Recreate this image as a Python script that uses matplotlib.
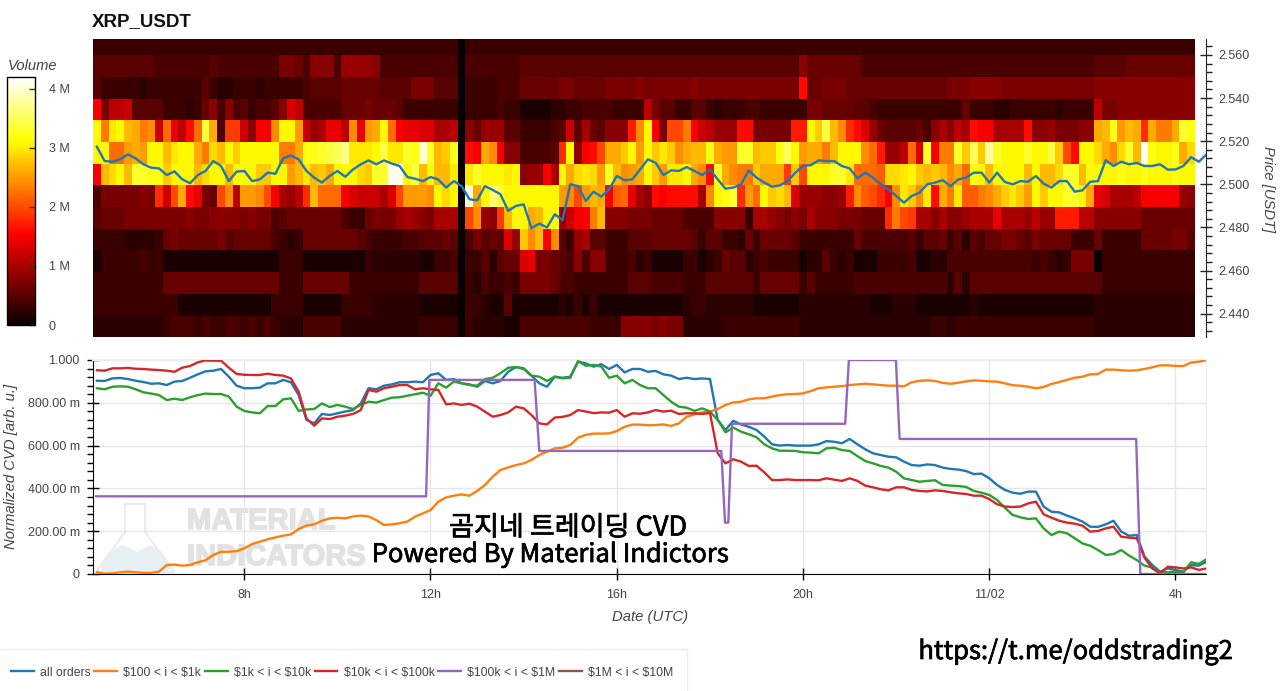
import numpy as np
import matplotlib
matplotlib.use('Agg')
import matplotlib.pyplot as plt
import matplotlib.patheffects as pe
from matplotlib.lines import Line2D
from matplotlib.patches import Polygon
from matplotlib.ticker import MultipleLocator

plt.rcParams['font.family'] = ['Liberation Sans', 'DejaVu Sans']

# heatmap volume per price row, in units of 100k, one value per 10 minute column
vol_2560 = [3,3,3,3,3,3,3,3,3,3,3,3,3,3,3,3,3,3,3,3,3,3,3,3,3,3,3,3,3,3,3,3,3,3,3,3,
            3,3,3,3,3,3,3,3,3,3,3,0,3,3,3,3,3,3,3,3,3,3,3,3,3,3,3,3,3,3,3,3,3,3,3,3,
            3,3,3,3,3,3,3,3,3,3,3,3,3,3,3,3,3,3,3,3,3,3,3,3,3,3,3,3,3,3,3,3,3,3,3,3,
            3,3,3,3,3,3,3,3,3,3,3,3,3,3,3,3,3,3,3,3,3,3,3,3,3,3,3,3,3,3,3,3,3,3]
vol_2550 = [5,5,5,5,5,5,5,5,4,4,4,4,4,4,4,5,4,4,4,4,4,4,4,4,7,7,6,4,8,8,8,4,9,9,9,9,
            8,4,4,4,4,4,4,4,4,4,4,0,4,4,4,4,4,4,4,5,5,5,5,5,5,5,5,5,5,5,5,5,5,5,5,5,
            5,5,5,5,5,5,5,5,5,5,5,5,5,5,5,5,5,5,5,8,6,6,6,6,6,6,6,4,4,4,4,4,4,4,4,4,
            4,4,4,4,4,4,4,4,4,4,4,4,4,4,4,4,4,4,4,4,4,5,5,5,5,6,6,6,6,6,6,6,6,6]
vol_2540 = [5,3,3,3,3,3,2,3,3,3,3,3,3,3,5,3,2,2,3,3,3,2,3,3,3,3,3,4,5,5,5,5,6,6,6,6,
            6,5,5,5,5,7,7,7,5,5,5,0,3,3,3,3,4,4,4,6,6,6,6,6,7,7,6,6,6,6,7,7,7,7,8,7,
            7,7,7,7,7,8,7,7,7,7,7,7,7,7,7,7,7,7,7,16,6,6,7,7,7,6,6,6,6,6,6,6,6,6,6,6,
            6,6,7,7,7,8,8,8,8,7,7,7,7,7,7,7,7,7,7,7,7,8,8,8,8,8,8,8,8,8,8,8,8,8]
vol_2530 = [15,7,11,11,12,5,5,5,5,3,3,3,2,3,6,8,4,8,4,5,3,4,4,5,8,13,11,4,4,4,4,4,6,6,6,7,
            6,6,6,5,3,3,3,3,3,3,3,0,3,3,3,3,4,3,3,1,1,1,1,2,2,3,3,4,4,4,4,3,3,3,3,11,
            7,5,5,3,3,5,5,3,2,3,3,3,4,4,3,3,3,3,3,3,7,7,6,6,6,6,5,5,4,3,3,3,3,3,3,3,
            3,3,3,3,6,3,3,3,2,2,3,3,3,3,3,3,2,3,3,3,3,11,7,7,8,8,8,8,8,8,8,8,8,8]
vol_2520 = [31,23,30,31,27,26,23,24,12,22,14,11,16,22,34,26,4,19,19,12,8,15,15,24,31,31,25,12,9,10,14,14,11,24,14,25,
            26,31,22,15,14,14,13,13,10,10,11,0,8,6,9,9,9,5,5,3,3,3,3,4,5,12,5,10,6,5,8,8,8,17,24,31,
            15,7,20,20,23,15,12,11,9,9,9,16,16,7,7,7,7,7,17,17,31,28,34,27,24,18,16,13,9,6,5,5,5,5,6,4,
            8,10,8,11,10,16,15,15,10,10,10,10,16,8,8,9,7,7,7,8,8,26,27,32,25,27,26,18,26,23,23,26,33,32]
vol_2510 = [31,31,22,22,25,26,25,31,31,27,30,31,31,26,23,29,27,31,28,31,31,31,31,31,23,23,26,32,32,33,34,35,37,30,30,30,
            31,34,30,30,33,32,40,33,27,28,32,0,16,15,26,24,15,8,8,4,4,4,4,5,18,31,8,15,16,20,26,26,28,31,25,31,
            28,30,28,24,26,27,27,32,26,25,25,33,33,27,28,28,32,35,31,25,26,26,23,27,31,31,31,24,22,17,9,9,11,22,13,33,
            15,23,23,33,28,35,28,38,33,31,31,31,33,31,31,34,28,20,16,31,31,29,26,24,29,33,27,42,32,31,31,32,26,29]
vol_2500 = [15,27,29,31,27,33,33,32,32,28,31,31,31,27,29,31,31,27,31,31,31,28,28,31,31,25,27,30,27,28,26,31,31,31,29,28,
            33,33,41,41,31,34,27,31,27,27,30,0,30,33,31,31,31,30,31,8,9,9,15,10,31,26,29,30,29,25,33,27,24,25,26,31,
            28,25,30,30,31,26,24,16,33,26,24,23,23,28,26,26,26,19,28,20,31,31,31,33,33,30,22,22,22,21,29,29,30,31,28,27,
            28,27,24,26,22,32,31,27,31,31,31,31,27,31,27,27,29,33,33,27,31,31,31,31,32,31,31,32,31,31,31,32,31,31]
vol_2490 = [4,7,7,7,7,7,8,7,18,12,20,26,16,14,7,6,20,24,11,25,25,24,20,15,10,9,11,18,27,22,22,22,15,13,12,12,
            12,10,13,20,25,25,25,24,31,29,31,0,40,26,31,36,34,31,31,31,31,31,31,31,25,24,20,25,27,26,15,21,22,14,10,8,
            16,15,16,16,16,16,10,24,31,32,33,18,25,22,31,28,29,27,13,9,9,9,8,8,9,17,24,21,20,18,15,24,30,28,24,30,
            16,26,23,30,21,21,23,24,26,28,30,28,25,31,28,31,31,33,33,31,26,14,13,10,10,10,11,15,15,15,15,15,9,8]
vol_2480 = [5,6,6,6,7,7,7,7,7,7,7,7,8,7,7,8,8,8,8,7,8,7,7,4,5,6,6,6,6,6,6,6,4,3,3,6,
            7,7,7,9,10,9,8,7,10,10,10,0,20,24,9,8,19,27,31,31,26,27,31,31,9,12,15,15,23,27,8,8,8,7,7,7,
            6,6,6,6,4,4,4,4,8,8,8,8,3,10,10,9,8,7,8,7,10,8,8,8,7,7,7,6,6,6,18,23,20,19,10,10,
            8,10,8,8,9,10,10,10,14,10,10,10,9,11,9,9,17,17,17,11,11,8,8,8,8,8,8,6,6,6,6,6,6,6]
vol_2470 = [3,3,3,3,2,2,2,2,3,6,7,6,6,6,6,6,7,5,6,6,6,6,6,4,3,2,3,6,6,6,6,6,6,6,5,4,
            3,3,3,3,4,4,5,5,5,6,5,0,4,7,5,6,5,13,9,28,24,27,15,24,5,3,9,10,5,5,3,3,3,5,5,5,
            6,6,6,6,6,5,3,5,5,3,3,2,6,3,6,6,6,6,5,3,3,3,3,3,3,3,6,4,4,4,4,4,4,5,3,5,
            5,6,3,5,2,5,4,6,6,7,7,6,5,7,6,6,6,6,3,3,3,6,3,3,3,3,3,6,6,6,6,7,7,5]
vol_2460 = [1,3,3,3,3,3,4,3,3,1,1,1,1,1,1,1,1,1,1,1,1,1,1,1,3,3,3,1,1,1,1,1,1,1,1,3,
            2,2,2,2,2,2,1,1,3,3,4,0,3,3,5,2,5,6,6,13,14,7,7,6,5,4,8,4,8,8,3,3,3,4,2,3,
            1,1,1,1,3,3,1,2,3,6,5,5,2,3,4,3,3,3,3,1,2,2,5,3,2,3,1,1,1,3,3,3,3,4,1,1,
            2,2,4,4,4,4,4,4,4,4,4,4,4,3,4,3,2,3,7,7,7,0,3,3,3,3,3,3,3,3,3,3,3,3]
vol_2450 = [3,3,3,3,3,3,3,3,3,6,6,6,6,6,6,6,6,6,6,6,6,6,6,6,3,3,3,6,6,6,6,6,6,3,3,3,
            3,3,3,3,3,3,5,5,5,5,5,0,3,2,4,3,3,4,3,7,7,7,7,6,4,4,3,3,3,3,3,3,3,5,5,5,
            4,4,4,4,3,3,3,5,5,5,5,5,5,3,6,6,6,6,6,3,5,3,3,3,3,3,4,4,4,4,4,4,4,4,4,4,
            4,4,2,5,2,5,5,5,5,5,5,5,5,5,5,5,5,5,5,5,5,5,3,3,3,3,3,3,3,3,3,3,3,3]
vol_2440 = [3,3,3,3,3,3,3,3,3,3,3,1,1,1,1,1,1,1,1,1,1,1,1,3,3,3,3,1,1,1,1,1,3,3,3,3,
            2,2,2,2,2,2,1,1,1,1,1,0,3,3,2,1,1,5,1,1,1,1,1,1,2,1,3,1,3,1,1,1,1,1,1,1,
            1,1,1,1,2,3,3,2,2,2,2,2,2,1,1,1,1,1,1,2,2,2,2,2,2,2,2,2,1,1,1,2,2,2,1,1,
            1,1,1,1,1,2,1,1,1,1,1,1,1,1,1,1,1,1,1,1,1,2,2,2,2,2,2,2,2,2,2,2,2,2]
vol_2430 = [2,2,2,2,2,2,2,2,2,3,4,4,4,3,4,3,3,4,4,3,4,3,4,3,2,2,2,4,4,4,4,4,2,2,2,2,
            2,2,2,2,2,2,3,3,3,3,3,0,3,2,2,2,2,1,1,4,4,4,4,4,4,4,4,4,3,3,3,3,8,8,8,8,
            7,8,7,7,2,2,2,2,2,3,3,3,3,3,3,3,3,3,3,2,2,2,2,2,2,2,2,2,2,2,2,2,2,2,2,2,
            3,3,2,3,3,3,3,3,3,3,3,3,3,3,3,3,3,3,3,3,3,2,2,2,2,2,2,2,2,2,2,2,2,2]

price_edges = [2.4292, 2.4391, 2.4491, 2.4593, 2.4694, 2.4794, 2.4895, 2.4995,
               2.5096, 2.5196, 2.5298, 2.5397, 2.5499, 2.5600, 2.5674]

# mid price, one value per 10 minutes
price = [2.5174,2.5108,2.5105,2.5116,2.5139,2.5120,2.5093,2.5077,2.5074,2.5043,2.5060,2.5023,
         2.5005,2.5043,2.5062,2.5108,2.5085,2.5015,2.5059,2.5062,2.5015,2.5023,2.5054,2.5049,
         2.5120,2.5134,2.5116,2.5062,2.5031,2.5008,2.5039,2.5062,2.5035,2.5069,2.5093,2.5111,
         2.5093,2.5111,2.5096,2.5085,2.5034,2.5026,2.5015,2.5034,2.5022,2.4985,2.5015,2.4992,
         2.4931,2.4926,2.4992,2.4974,2.4954,2.4877,2.4900,2.4907,2.4797,2.4818,2.4800,2.4861,
         2.4834,2.5000,2.4992,2.4923,2.4966,2.4943,2.4977,2.5039,2.5019,2.5023,2.5069,2.5116,
         2.5100,2.5043,2.5065,2.5062,2.5080,2.5062,2.5043,2.5069,2.5023,2.4980,2.4985,2.5000,
         2.5065,2.5031,2.5008,2.4989,2.4995,2.5015,2.5054,2.5085,2.5089,2.5111,2.5108,2.5108,
         2.5085,2.5074,2.5028,2.5054,2.5031,2.5000,2.4977,2.4946,2.4915,2.4946,2.4961,2.5000,
         2.5008,2.5019,2.4992,2.5023,2.5031,2.5054,2.5054,2.5008,2.5054,2.5011,2.5000,2.5015,
         2.5012,2.5039,2.5003,2.4985,2.5015,2.5015,2.4966,2.4972,2.5012,2.5015,2.5112,2.5085,
         2.5105,2.5093,2.5099,2.5085,2.5085,2.5093,2.5068,2.5069,2.5085,2.5126,2.5105,2.5139]

# normalized CVD, in thousandths, one value per 10 minutes
cvd_all = [903,902,914,916,911,903,897,889,891,883,899,902,917,933,947,950,958,922,880,868,868,871,891,891,
           907,896,836,720,704,748,743,751,759,766,797,868,
           863,880,886,896,896,899,896,930,938,907,911,891,886,875,902,891,902,945,967,961,927,891,875,922,
           917,922,992,984,969,980,958,977,942,958,958,945,
           949,933,927,911,917,911,914,911,720,673,716,699,688,673,642,606,600,603,600,600,600,606,621,618,
           611,631,606,583,564,556,548,545,525,509,506,512,
           509,497,491,488,481,467,469,447,416,393,380,375,385,385,315,291,288,273,260,245,221,220,232,249,
           198,179,182,81,42,11,26,19,11,42,39,58]
cvd_100_1k = [8,2,3,8,11,8,5,5,11,42,44,39,42,55,64,89,104,104,107,120,140,151,162,171,
              179,185,210,226,232,249,260,263,260,269,273,269,
              252,229,232,237,245,268,283,299,338,358,366,372,366,388,416,455,486,498,509,517,533,556,572,587,
              590,603,637,650,656,656,657,668,688,698,698,695,
              696,699,692,704,735,746,755,759,771,790,802,805,816,821,821,829,836,840,841,844,855,868,872,875,
              878,883,886,889,886,883,880,880,877,896,902,905,
              902,893,889,894,900,905,903,900,899,891,882,880,875,868,874,888,897,907,917,922,933,935,955,955,
              952,950,952,958,966,975,975,972,972,988,992,1000]
cvd_1k_10k = [868,863,875,877,875,863,849,843,836,813,819,813,826,836,843,841,841,829,782,762,755,751,785,785,
              816,821,762,769,771,797,780,790,782,771,790,805,
              801,813,824,826,833,840,847,833,891,871,899,891,883,880,911,917,938,964,967,958,927,922,902,922,
              914,917,995,973,977,969,917,927,891,907,883,868,
              868,836,805,782,777,762,774,759,720,662,684,665,653,639,606,587,576,576,575,569,567,564,587,590,
              579,575,551,528,517,505,497,478,447,439,431,435,
              438,416,413,411,407,388,380,369,346,310,276,265,257,260,213,182,198,190,167,143,132,112,89,93,
              112,86,65,39,30,8,8,11,8,55,47,70]
cvd_10k_100k = [952,950,961,961,963,959,958,955,953,950,945,964,972,989,998,997,997,964,935,931,930,930,936,930,
                927,914,852,727,693,727,724,735,740,748,766,860,
                852,868,875,883,883,863,868,863,860,793,797,790,796,782,759,735,743,755,782,774,743,704,699,731,
                734,743,766,759,752,755,754,766,735,751,749,755,
                766,759,763,748,751,751,748,752,564,517,536,525,505,506,475,439,439,442,439,439,439,438,447,441,
                435,447,435,413,405,396,391,405,405,393,388,386,
                391,388,382,377,374,366,366,350,326,315,313,315,330,338,279,263,249,240,235,226,198,201,213,221,
                174,170,167,76,26,3,34,31,26,31,19,26]

# the $100k-$1M series only moves in steps, so it has its own time points (hours)
step_hours = [4.82, 11.91, 11.98, 14.24, 14.34, 18.25, 18.33, 18.40, 18.48, 20.91, 20.99, 22.00, 22.08, 27.16, 27.25, 28.66]
cvd_100k_1m = [363, 363, 907, 907, 575, 575, 240, 240, 702, 702, 1000, 1000, 631, 631, 0, 0]

x_ticks = [8, 12, 16, 20, 24, 28]
x_labels = ['8h', '12h', '16h', '20h', '11/02', '4h']
price_ticks = [2.44, 2.46, 2.48, 2.50, 2.52, 2.54, 2.56]
cvd_ticks = [0, 200, 400, 600, 800, 1000]
cvd_labels = ['0', '200.00 m', '400.00 m', '600.00 m', '800.00 m', '1.000']
volume_ticks = [0, 1e6, 2e6, 3e6, 4e6]
volume_labels = ['0', '1 M', '2 M', '3 M', '4 M']

TEXT_COLOR = '#444444'
LINE_W = 1.7
W, H = 1280, 691


def ax_rect(left, top, right, bottom):
    # pixel box -> figure fractions
    return [left / W, 1 - bottom / H, (right - left) / W, (bottom - top) / H]


def fx(px):
    return px / W


def fy(py):
    return 1 - py / H


fig = plt.figure(figsize=(12.8, 6.91), dpi=100)

# heatmap panel
ax_heat = fig.add_axes(ax_rect(93, 39, 1206, 337))
t_start = 4.756
t_end = 28.66
volume = np.array([vol_2430, vol_2440, vol_2450, vol_2460, vol_2470, vol_2480, vol_2490, vol_2500,
                   vol_2510, vol_2520, vol_2530, vol_2540, vol_2550, vol_2560]) * 1e5
time_edges = t_start + np.arange(volume.shape[1] + 1) / 6
mesh = ax_heat.pcolormesh(time_edges, price_edges, volume, cmap='hot', vmin=0, vmax=4.2e6,
                          shading='flat', antialiased=False)
line_hours = 4.84 + np.arange(len(price)) / 6
ax_heat.plot(line_hours, price, color='#1f77b4', lw=LINE_W, solid_joinstyle='round')
ax_heat.set_xlim(t_start, t_end)
ax_heat.set_ylim(2.4292, 2.5674)
ax_heat.set_xticks([])
for side in ['left', 'top', 'bottom']:
    ax_heat.spines[side].set_visible(False)
ax_heat.spines['right'].set_color('#222222')
ax_heat.yaxis.tick_right()
ax_heat.set_yticks(price_ticks)
ax_heat.set_yticklabels([f'{p:.3f}' for p in price_ticks])
ax_heat.yaxis.set_minor_locator(MultipleLocator(0.004))
ax_heat.tick_params(axis='y', which='major', direction='inout', length=8, width=1, color='#222222',
                    labelsize=9, labelcolor=TEXT_COLOR, pad=5)
ax_heat.tick_params(axis='y', which='minor', direction='out', length=4, width=1, color='#222222')
fig.text(fx(1268), fy(189), 'Price [USDT]', rotation=-90, style='italic', fontsize=10.6,
         color=TEXT_COLOR, ha='center', va='center')
fig.text(fx(92), fy(22), 'XRP_USDT', fontsize=13.5, fontweight='bold', color='#111111', ha='left', va='center')

# colorbar
cax = fig.add_axes(ax_rect(7, 77, 35, 325))
cbar = fig.colorbar(mesh, cax=cax)
cbar.set_ticks(volume_ticks)
cbar.set_ticklabels(volume_labels)
cbar.ax.tick_params(direction='in', length=4, width=1, color='#333333', labelsize=9,
                    labelcolor=TEXT_COLOR, pad=10)
cbar.ax.minorticks_off()
cbar.outline.set_edgecolor('black')
cbar.outline.set_linewidth(1)
fig.text(fx(8), fy(66), 'Volume', style='italic', fontsize=10.6, color=TEXT_COLOR, ha='left', va='center')

# CVD panel
ax_cvd = fig.add_axes(ax_rect(93, 360, 1206, 574))
line_hours_cvd = 4.84 + np.arange(len(cvd_all)) / 6
ax_cvd.plot(line_hours_cvd, cvd_all, color='#1f77b4', lw=LINE_W, label='all orders', zorder=3)
ax_cvd.plot(line_hours_cvd, cvd_100_1k, color='#ff7f0e', lw=LINE_W, label='$100 < i < $1k', zorder=3)
ax_cvd.plot(line_hours_cvd, cvd_1k_10k, color='#2ca02c', lw=LINE_W, label='$1k < i < $10k', zorder=3)
ax_cvd.plot(line_hours_cvd, cvd_10k_100k, color='#d62728', lw=LINE_W, label='$10k < i < $100k', zorder=3)
ax_cvd.plot(step_hours, cvd_100k_1m, color='#9467bd', lw=LINE_W, label='$100k < i < $1M', zorder=3)
ax_cvd.plot([], [], color='#8c564b', lw=LINE_W, label='$1M < i < $10M')
ax_cvd.set_xlim(t_start, t_end)
ax_cvd.set_ylim(0, 1000)
ax_cvd.set_xticks(x_ticks)
ax_cvd.set_xticklabels(x_labels)
ax_cvd.set_yticks(cvd_ticks)
ax_cvd.set_yticklabels(cvd_labels)
ax_cvd.yaxis.set_minor_locator(MultipleLocator(40))
ax_cvd.grid(True, color='#e6e6e6', lw=1)
ax_cvd.set_axisbelow(True)
ax_cvd.spines['top'].set_color('#eeeeee')
ax_cvd.spines['top'].set_linewidth(1.5)
ax_cvd.spines['right'].set_color('#eeeeee')
ax_cvd.spines['left'].set_color('black')
ax_cvd.spines['bottom'].set_color('black')
ax_cvd.tick_params(axis='x', which='major', direction='inout', length=9, width=1, labelsize=9,
                   labelcolor=TEXT_COLOR, pad=6)
ax_cvd.tick_params(axis='y', which='major', direction='inout', length=9, width=1, labelsize=9,
                   labelcolor=TEXT_COLOR, pad=5)
ax_cvd.tick_params(axis='y', which='minor', direction='out', length=4, width=1)
fig.text(fx(650), fy(617), 'Date (UTC)', style='italic', fontsize=10.7, color=TEXT_COLOR, ha='center', va='center')
fig.text(fx(11), fy(466), 'Normalized CVD [arb. u.]', rotation=90, style='italic', fontsize=10.7,
         color=TEXT_COLOR, ha='center', va='center')

# watermark behind the CVD lines
WM_GREY = '#e2e2e2'
wm_stroke = [pe.withStroke(linewidth=1.2, foreground=WM_GREY)]
for label, py in [('MATERIAL', 521), ('INDICATORS', 557)]:
    fig.text(fx(187), fy(py), label, fontsize=21, fontweight='bold', color=WM_GREY, ha='left', va='center',
             zorder=0.5, path_effects=wm_stroke)
flask_outline = [(125, 504), (145, 504), (145, 532), (174, 572), (96, 572), (125, 532)]
flask_liquid = [(100, 566), (110, 552), (122, 545), (137, 552), (150, 545), (162, 552), (171, 566), (168, 572), (103, 572)]
for pts, face, edge in [(flask_liquid, '#e6f0f3', 'none'), (flask_outline, 'none', '#e8ecee')]:
    fig.add_artist(Polygon([(fx(a), fy(b)) for a, b in pts], closed=True, transform=fig.transFigure,
                           facecolor=face, edgecolor=edge, lw=1.5, zorder=0.5))
ax_cvd.patch.set_alpha(0)
ax_cvd.set_zorder(2)

# pasted-in captions
kr_family = ['Noto Sans CJK KR', 'DejaVu Sans']
caption_stroke = [pe.withStroke(linewidth=0.5, foreground='black')]
fig.text(fx(568), fy(528), '곰지네 트레이딩 CVD', fontsize=19.5, family=kr_family, color='black',
         ha='center', va='center', zorder=5, path_effects=caption_stroke)
fig.text(fx(551), fy(555), 'Powered By Material Indictors', fontsize=18.4, family=kr_family, color='black',
         ha='center', va='center', zorder=5, path_effects=caption_stroke)
fig.text(fx(1076), fy(652), 'https://t.me/oddstrading2', fontsize=18.4, family=kr_family, color='black',
         ha='center', va='center', zorder=5, path_effects=caption_stroke)

# legend strip along the bottom
handles, labels = ax_cvd.get_legend_handles_labels()
labels = [s.replace('$', r'\$') for s in labels]
leg = fig.legend(handles, labels, ncol=6, loc='lower left', bbox_to_anchor=(0, 0.002), borderaxespad=0,
                 fontsize=8.85, handlelength=1.85, handletextpad=0.5, columnspacing=0.3,
                 borderpad=0.9, frameon=False, labelcolor=TEXT_COLOR)
for xs, ys in [([0, fx(687)], [fy(649), fy(649)]), ([fx(687), fx(687)], [fy(649), 0])]:
    fig.add_artist(Line2D(xs, ys, transform=fig.transFigure, color='#eeeeee', lw=1))

fig.savefig('out.png', dpi=100)
